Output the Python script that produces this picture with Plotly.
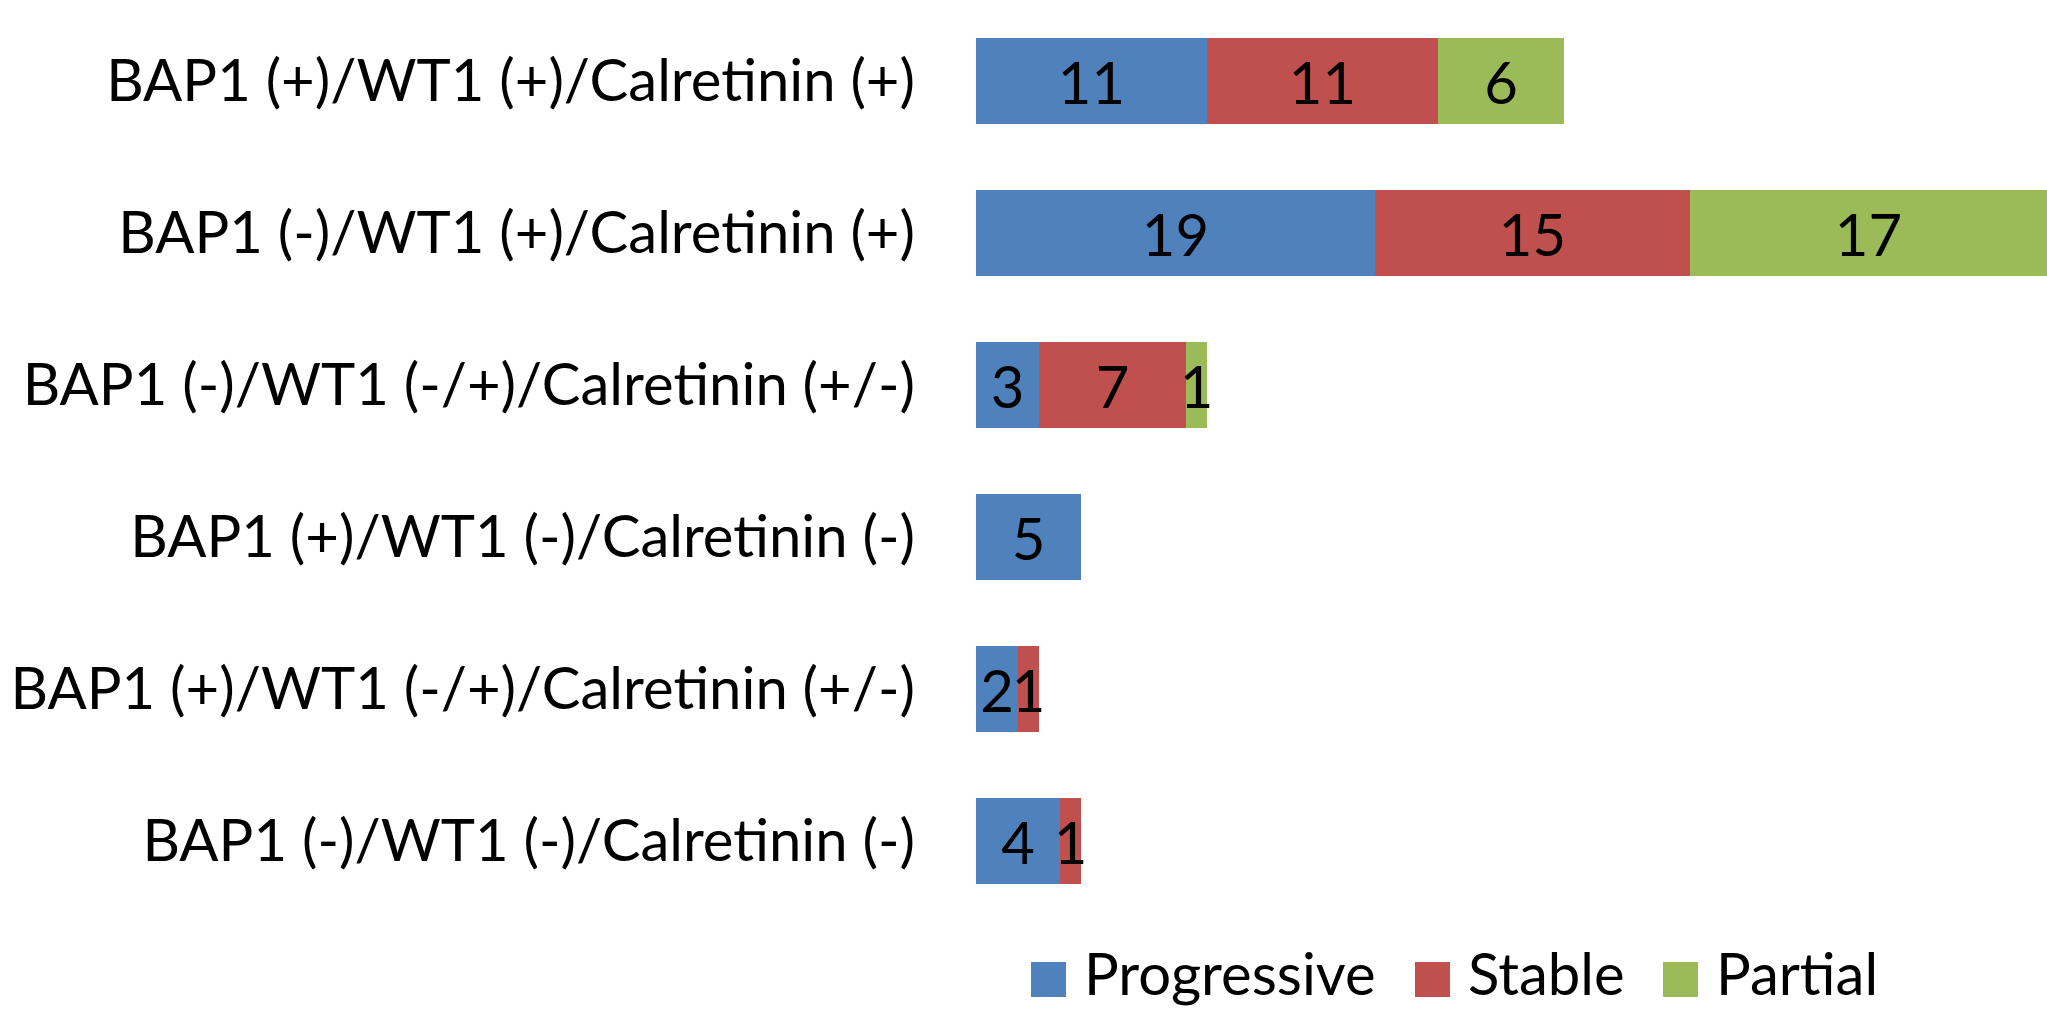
import plotly.graph_objects as go

# Marker profile groups (top to bottom) and response counts per group
categories = [
    "BAP1 (+)/WT1 (+)/Calretinin (+)",
    "BAP1 (-)/WT1 (+)/Calretinin (+)",
    "BAP1 (-)/WT1 (-/+)/Calretinin (+/-)",
    "BAP1 (+)/WT1 (-)/Calretinin (-)",
    "BAP1 (+)/WT1 (-/+)/Calretinin (+/-)",
    "BAP1 (-)/WT1 (-)/Calretinin (-)",
]
progressive = [11, 19, 3, 5, 2, 4]
stable = [11, 15, 7, None, 1, 1]
partial = [6, 17, 1, None, None, None]

series_names = ["Progressive", "Stable", "Partial"]
series_values = [progressive, stable, partial]
series_colors = ["#4F81BD", "#C0504D", "#9BBB59"]

FONT = "Lato"
FS = 58

W, H = 2047, 1010
M_L, M_R, M_T, M_B = 976, 0, 5, 93
plot_w = W - M_L - M_R
plot_h = H - M_T - M_B


def px_x(px):
    return (px - M_L) / plot_w


def px_y(py):
    return (H - M_B - py) / plot_h


fig = go.Figure()
for name, vals, col in zip(series_names, series_values, series_colors):
    fig.add_trace(go.Bar(
        y=categories,
        x=vals,
        name=name,
        orientation="h",
        marker=dict(color=col, line=dict(width=0)),
        text=vals,
        texttemplate="%{x}",
        textposition="inside",
        insidetextanchor="middle",
        textangle=0,
        constraintext="none",
        textfont=dict(family=FONT, size=FS, color="black"),
        showlegend=False,
        cliponaxis=False,
    ))

# Legend drawn as large swatches with labels beneath the bars
legend_swatch_x = [1031, 1415, 1663]
swatch = 35
leg_top, leg_bot = 962, 997
for name, col, sx in zip(series_names, series_colors, legend_swatch_x):
    fig.add_shape(type="rect", xref="paper", yref="paper",
                  x0=px_x(sx), x1=px_x(sx + swatch),
                  y0=px_y(leg_bot), y1=px_y(leg_top),
                  fillcolor=col, line=dict(width=0))
    fig.add_annotation(xref="paper", yref="paper",
                       x=px_x(sx + swatch + 16), y=px_y(1009),
                       text=name, showarrow=False, xanchor="left", yanchor="bottom",
                       font=dict(family=FONT, size=FS, color="black"))

fig.update_layout(
    width=W, height=H,
    barmode="stack",
    bargap=0.44,
    margin=dict(l=M_L, r=M_R, t=M_T, b=M_B, pad=0, autoexpand=False),
    plot_bgcolor="white",
    paper_bgcolor="white",
    font=dict(family=FONT, size=FS, color="black"),
    uniformtext=dict(minsize=FS, mode="show"),
    xaxis=dict(range=[0, 51], visible=False, fixedrange=True),
    yaxis=dict(
        categoryorder="array", categoryarray=categories,
        autorange="reversed", automargin=False,
        showgrid=False, zeroline=False, showline=False,
        ticks="", ticklabelstandoff=60,
        tickfont=dict(family=FONT, size=FS, color="black"),
    ),
)

fig.write_html("out.html")
